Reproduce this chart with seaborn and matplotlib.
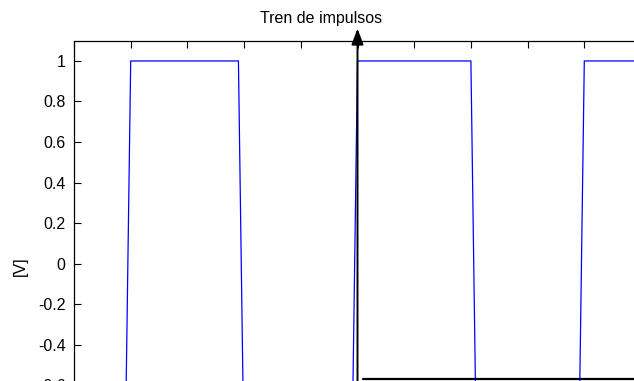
import matplotlib
matplotlib.use("Agg")
import matplotlib.pyplot as plt
import seaborn as sns
import pandas as pd
from matplotlib.ticker import FixedLocator, FixedFormatter

# Pulse train vertices: time [s] and voltage [V]
t_vals = [-5.0, -4.1, -4.0, -2.1, -2.0, -0.1, 0.0, 2.0, 2.1, 3.9, 4.0, 5.0]
v_vals = [-1, -1, 1, 1, -1, -1, 1, 1, -1, -1, 1, 1]

# Axis ticks
x_ticks = [-5, -4, -3, -2, -1, 0, 1, 2, 3, 4, 5]
y_ticks = [-0.6, -0.4, -0.2, 0.0, 0.2, 0.4, 0.6, 0.8, 1.0]
y_tick_labels = ["-0.6", "-0.4", "-0.2", "0", "0.2", "0.4", "0.6", "0.8", "1"]

# Reference axis lines (vertical arrow at t=0, horizontal baseline)
axis_arrow_top = 1.16
baseline_level = -0.57
baseline_start = 0.09

sns.set_theme(style="white")
plt.rcParams["font.family"] = ["Liberation Sans", "DejaVu Sans"]
plt.rcParams["axes.unicode_minus"] = False

W, H = 634, 381
fig = plt.figure(figsize=(W / 100, H / 100), dpi=100)
fig.patch.set_facecolor("white")

# Axes box in pixels: left 74, right 641, top 40.7, bottom 486.5 (extends past the canvas)
left_px, right_px, top_px, bottom_px = 74, 641, 40.7, 486.5
ax = fig.add_axes([left_px / W, (H - bottom_px) / H,
                   (right_px - left_px) / W, (bottom_px - top_px) / H])
ax.set_facecolor("white")

df = pd.DataFrame({"t": t_vals, "v": v_vals})
sns.lineplot(data=df, x="t", y="v", ax=ax, color="#0000ff", linewidth=0.9,
             estimator=None, sort=False)

ax.set_xlim(-5, 5)
ax.set_ylim(-1.1, 1.1)

ax.xaxis.set_major_locator(FixedLocator(x_ticks))
ax.yaxis.set_major_locator(FixedLocator(y_ticks))
ax.yaxis.set_major_formatter(FixedFormatter(y_tick_labels))

ax.tick_params(direction="in", top=True, right=True, bottom=True, left=True,
               length=5, width=0.8, color="black", labelsize=11.5,
               labelcolor="black", pad=6)
ax.tick_params(axis="x", labelbottom=False)

for sp in ax.spines.values():
    sp.set_visible(True)
    sp.set_color("black")
    sp.set_linewidth(0.9)

ax.set_xlabel("")
ax.set_ylabel("[V]", fontsize=11.5, color="black")
ax.yaxis.set_label_coords(-0.081, 0.495)

# Vertical axis arrow at t = 0
ax.annotate("", xy=(0, axis_arrow_top), xytext=(0, -1.1),
            arrowprops=dict(arrowstyle="-|>,head_length=0.8,head_width=0.3",
                            color="black", lw=1.4, mutation_scale=12,
                            shrinkA=0, shrinkB=0),
            annotation_clip=False)

# Horizontal baseline
ax.plot([baseline_start, 5], [baseline_level, baseline_level],
        color="black", linewidth=1.6, clip_on=False)

fig.text(321.5 / W, 1 - 18 / H, "Tren de impulsos", ha="center", va="center",
         fontsize=11.5, color="black")

fig.savefig("out.png", dpi=100, facecolor="white")
